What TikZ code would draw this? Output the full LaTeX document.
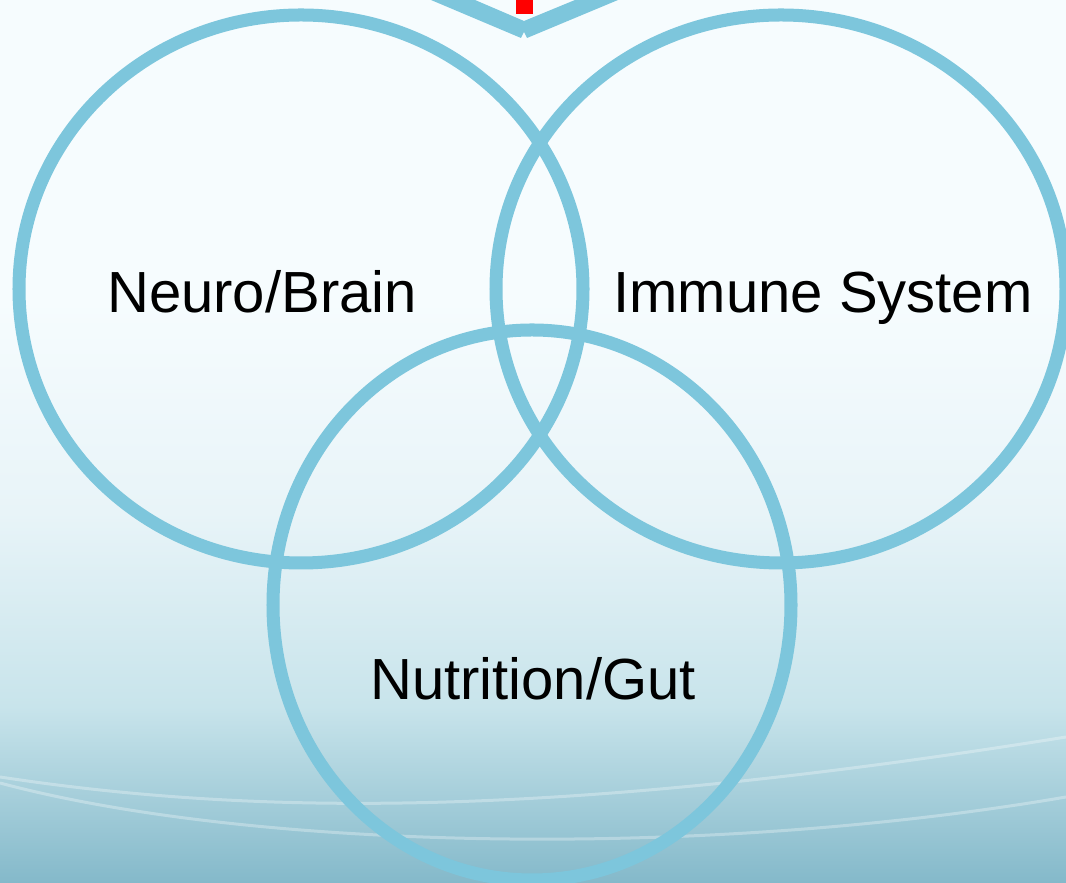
\documentclass[tikz,border=0pt]{standalone}
\usepackage{fontspec}
\setmainfont{Liberation Sans}
\definecolor{ringblue}{RGB}{125,198,220}
\definecolor{bgtop}{RGB}{246,252,254}
\definecolor{bgmid}{RGB}{232,244,248}
\definecolor{bglow}{RGB}{200,228,235}
\definecolor{bgbot}{RGB}{132,185,202}
% the visible part of a pgf shading is 25bp..75bp
\pgfdeclareverticalshading{slideshade}{100bp}{color(0bp)=(bgbot); color(25bp)=(bgbot); color(35bp)=(bglow); color(46bp)=(bgmid); color(58bp)=(bgtop); color(100bp)=(bgtop)}
\begin{document}
\begin{tikzpicture}[x=0.01cm, y=-0.01cm,
    ring/.style={draw=ringblue, line width=0.13cm},
    wave/.style={white, opacity=0.3, line width=0.03cm},
    label/.style={font=\fontsize{16.5}{19}\selectfont, anchor=base, inner sep=0pt}]
    % Fix the page and the background
    \useasboundingbox (0,0) rectangle (1066,883);
    \clip (0,0) rectangle (1066,883);
    \shade[shading=slideshade] (0,0) rectangle (1066,883);
    \draw[wave] (0,777) .. controls (250,815) and (550,820) .. (1066,737);
    \draw[wave] (0,783) .. controls (250,850) and (700,860) .. (1066,797);

    % Centres of the three rings
    \coordinate (brain) at (301,289);
    \coordinate (immune) at (781,289);
    \coordinate (gut) at (532,605);

    % Draw the rings
    \draw[ring] (brain) ellipse [x radius=282, y radius=274];
    \draw[ring] (immune) ellipse [x radius=285, y radius=274];
    \draw[ring] (gut) ellipse [x radius=259, y radius=275];

    % Chevron and red mark at the top
    \fill[ringblue] (431,0) -- (521,38) -- (524,32) -- (527,38) -- (618,0)
        -- (575,0) -- (524,21) -- (475,0) -- cycle;
    \fill[red] (516,0) rectangle (533,14);

    % Labels
    \node[label] (neurotext) at (262,313) {Neuro/Brain};
    \node[label] (immunetext) at (823,313) {Immune System};
    \node[label] (guttext) at (533,700) {Nutrition/Gut};
\end{tikzpicture}
\end{document}
